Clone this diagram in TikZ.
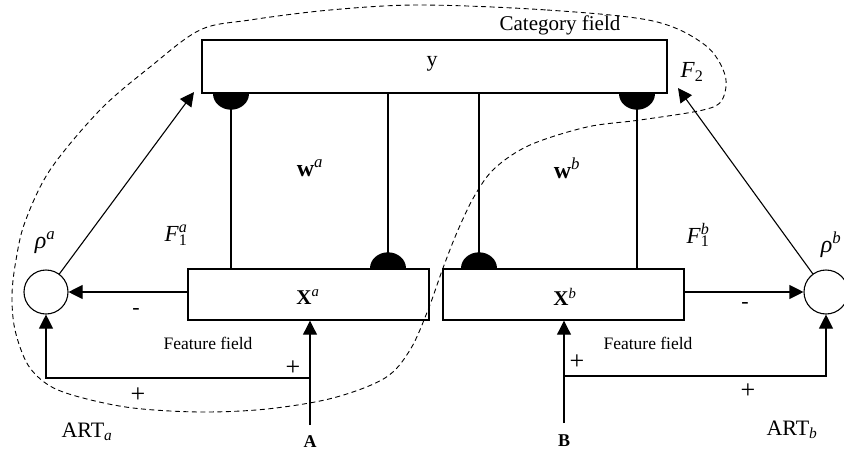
\documentclass[tikz,border=0pt]{standalone}
\usepackage{fontspec}
\setmainfont{Liberation Serif}
\usetikzlibrary{arrows.meta,calc}
\newcommand{\FFlab}[2]{\textit{F}\rlap{\textsuperscript{\textit{#2}}}\textsubscript{#1}}
\begin{document}
\begin{tikzpicture}[x=1pt,y=-1pt,
  box/.style={draw,line width=1.4pt,inner sep=0pt,anchor=center},
  sumnode/.style={draw,circle,line width=1.1pt,minimum size=44pt,inner sep=0pt},
  wire/.style={line width=1.1pt},
  arr/.style={wire,-{Triangle[length=14pt,width=14pt]}},
  semi/.style={fill=black},
  txt/.style={inner sep=0pt},
  big/.style={txt,font=\fontsize{22}{24}\selectfont},
  cat/.style={txt,font=\fontsize{21}{24}\selectfont},
  feat/.style={txt,font=\fontsize{17.5}{20}\selectfont},
  sgn/.style={txt,font=\fontsize{26}{28}\selectfont},
  inp/.style={txt,font=\fontsize{18}{20}\selectfont\bfseries},
  loop/.style={line width=0.9pt,dash pattern=on 5pt off 3.5pt}
]
\useasboundingbox (0,0) rectangle (844,453);
\clip (0,0) rectangle (844,453);

% boxes
\node[box,minimum width=465pt,minimum height=53pt] (f2) at (434.5,66.5) {};
\node[box,minimum width=241pt,minimum height=51pt] (xa) at (308.5,294.5) {};
\node[box,minimum width=241pt,minimum height=51pt] (xb) at (563.5,294.5) {};
\node[sumnode] (ra) at (46,292) {};
\node[sumnode] (rb) at (826,292) {};

% labels in boxes
\node[big] (ylab) at (432,64) {y};
\node[txt,font=\fontsize{21}{24}\selectfont] (xalab) at (308,297) {\textbf{X}\textsuperscript{\textit{a}}};
\node[txt,font=\fontsize{21}{24}\selectfont] (xblab) at (565,297) {\textbf{X}\textsuperscript{\textit{b}}};

% vertical weight lines
\coordinate (l1) at (231,0);
\coordinate (l2) at (388,0);
\coordinate (l3) at (479,0);
\coordinate (l4) at (637,0);
\draw[wire] (f2.south -| l1) -- (xa.north -| l1);
\draw[wire] (f2.south -| l2) -- (xa.north -| l2);
\draw[wire] (f2.south -| l3) -- (xb.north -| l3);
\draw[wire] (f2.south -| l4) -- (xb.north -| l4);

% semicircle synapses
\fill[semi] (f2.south -| l1) ++(-18,0) arc[start angle=180,end angle=0,x radius=18,y radius=16] -- cycle;
\fill[semi] (f2.south -| l4) ++(-18,0) arc[start angle=180,end angle=0,x radius=18,y radius=16] -- cycle;
\fill[semi] (xa.north -| l2) ++(-18,0) arc[start angle=180,end angle=360,x radius=18,y radius=16] -- cycle;
\fill[semi] (xb.north -| l3) ++(-18,0) arc[start angle=180,end angle=360,x radius=18,y radius=16] -- cycle;

% F1 -> rho
\draw[arr] (xa.west |- ra) -- (ra.east);
\draw[arr] (xb.east |- rb) -- (rb.west);

% inputs
\coordinate (ina) at (310,425);
\coordinate (ja) at (310,378);
\coordinate (inb) at (564,423);
\coordinate (jb) at (564,376);
\draw[arr] (ina) -- (ina |- xa.south);
\draw[arr] (ja) -- (ra.south |- ja) -- (ra.south);
\draw[arr] (inb) -- (inb |- xb.south);
\draw[arr] (jb) -- (rb.south |- jb) -- (rb.south);

% rho -> F2
\coordinate (ta) at (194,92);
\coordinate (tb) at (678,88);
\draw[arr] (ra) -- (ta);
\draw[arr] (rb) -- (tb);

% dashed boundary
\draw[loop] plot[smooth cycle,tension=0.55] coordinates {
 (420,5) (547,10) (653,21) (705,45) (725,75) (722,100) (703,110) (640,120)
 (587,127) (530,145) (495,168) (475,195) (458,230) (443,268) (428,310)
 (410,350) (385,378) (333,398) (267,409) (200,412) (133,408) (83,398)
 (50,386) (28,365) (15,330) (12,295) (16,260) (25,222) (50,170) (100,110)
 (150,67) (200,30) (250,20) (330,10)};

% text labels
\node[cat] (catlab) at (560,25) {Category field};
\node[txt,font=\fontsize{23}{26}\selectfont] (f2lab) at (692,72) {\textit{F}\textsubscript{2}};
\node[txt,font=\fontsize{24}{26}\selectfont] (walab) at (310,168) {\textbf{w}\textsuperscript{\textit{a}}};
\node[txt,font=\fontsize{24}{26}\selectfont] (wblab) at (567,168) {\textbf{w}\textsuperscript{\textit{b}}};
\node[txt,font=\fontsize{23}{26}\selectfont] (f1alab) at (176,235) {\FFlab{1}{a}};
\node[txt,font=\fontsize{23}{26}\selectfont] (f1blab) at (698,235) {\FFlab{1}{b}};
\node[txt,font=\fontsize{24}{26}\selectfont] (ralab) at (45,243) {\textit{ρ}\textsuperscript{\textit{a}}};
\node[txt,font=\fontsize{24}{26}\selectfont] (rblab) at (831,245) {\textit{ρ}\textsuperscript{\textit{b}}};
\node[big] (ma) at (136,311) {-};
\node[big] (mb) at (745,305) {-};
\node[sgn] (pa1) at (293,368) {+};
\node[sgn] (pa2) at (138,395) {+};
\node[sgn] (pb1) at (577,362) {+};
\node[sgn] (pb2) at (748,391) {+};
\node[feat] (ffa) at (208,343) {Feature field};
\node[feat] (ffb) at (648,343) {Feature field};
\node[big] (arta) at (87,432) {ART\textsubscript{\textit{a}}};
\node[big] (artb) at (792,430) {ART\textsubscript{\textit{b}}};
\node[inp] (na) at (310,442) {A};
\node[inp] (nb) at (564,441) {B};
\end{tikzpicture}
\end{document}
